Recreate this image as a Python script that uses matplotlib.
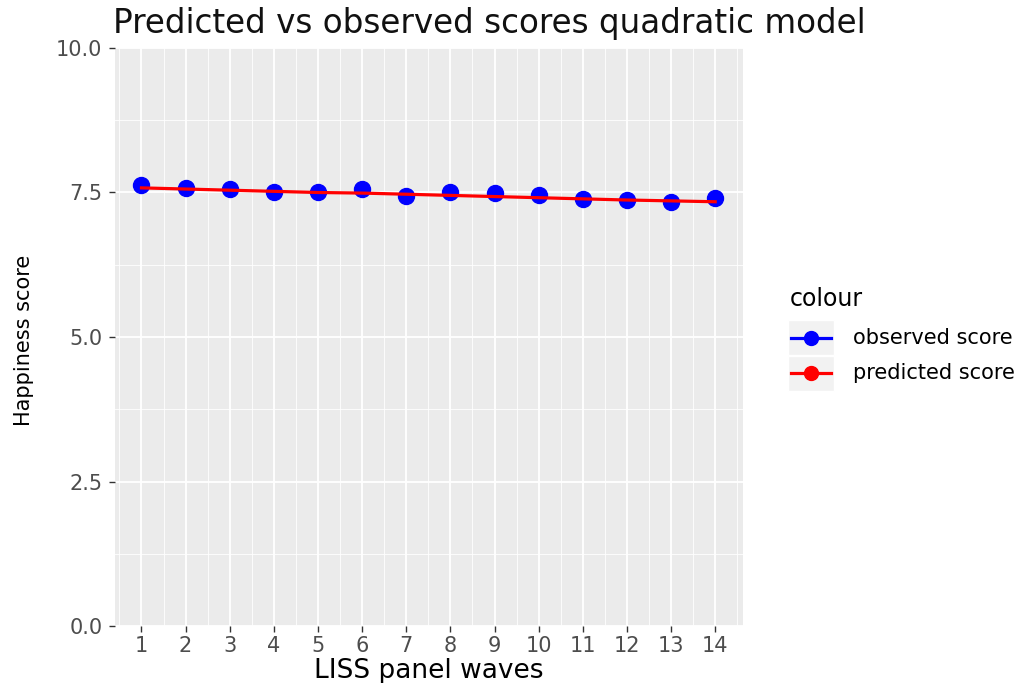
import matplotlib
matplotlib.use("Agg")
import matplotlib.pyplot as plt
from matplotlib.lines import Line2D
from matplotlib.patches import Rectangle
import numpy as np

# ---- data ----
waves = [1, 2, 3, 4, 5, 6, 7, 8, 9, 10, 11, 12, 13, 14]
observed = [7.63, 7.57, 7.555, 7.51, 7.51, 7.56, 7.445, 7.50, 7.485, 7.457, 7.39, 7.37, 7.34, 7.40]
predicted = [7.58, 7.56, 7.54, 7.52, 7.50, 7.49, 7.47, 7.45, 7.43, 7.41, 7.39, 7.37, 7.355, 7.34]
y_ticks = [0.0, 2.5, 5.0, 7.5, 10.0]
y_tick_labels = ["0.0", "2.5", "5.0", "7.5", "10.0"]
legend_labels = ["observed score", "predicted score"]
legend_colors = ["blue", "red"]

W, H = 1035, 683
fig = plt.figure(figsize=(W / 100, H / 100), dpi=100)
fig.patch.set_facecolor("white")

def fx(px):
    return px / W

def fy(py):
    return 1 - py / H

left, right, top, bottom = 115, 743, 48, 626
ax = fig.add_axes([fx(left), fy(bottom), fx(right - left), (bottom - top) / H])
ax.set_facecolor("#EBEBEB")
for s in ax.spines.values():
    s.set_visible(False)

ax.set_xlim(0.4, 14.63)
ax.set_ylim(0, 10)
ax.set_xticks(waves)
ax.set_xticklabels([str(w) for w in waves])
ax.set_xticks([w - 0.5 for w in waves] + [14.5], minor=True)
ax.set_yticks(y_ticks)
ax.set_yticklabels(y_tick_labels)
ax.set_yticks([1.25, 3.75, 6.25, 8.75], minor=True)

ax.grid(True, which="major", color="white", linewidth=1.3, zorder=0)
ax.grid(True, which="minor", color="white", linewidth=0.6, zorder=0)
ax.set_axisbelow(True)

ax.tick_params(axis="both", which="major", length=4.5, width=1, color="#333333",
               labelcolor="#4D4D4D", labelsize=15)
ax.tick_params(axis="x", which="major", pad=3)
ax.tick_params(axis="y", which="major", pad=4.5)
ax.tick_params(axis="both", which="minor", length=0)

# marks
ax.plot(waves, observed, linestyle="none", marker="o", markersize=11.5,
        color="blue", zorder=4)
ax.plot(waves, predicted, color="red", linewidth=2.3, zorder=5)

# titles
fig.text(fx(113), fy(33), "Predicted vs observed scores quadratic model",
         fontsize=23.5, color="#111111", ha="left", va="baseline")
fig.text(fx((left + right) / 2), fy(678), "LISS panel waves",
         fontsize=19, color="black", ha="center", va="baseline")
fig.text(fx(24), fy((top + bottom) / 2 + 3), "Happiness score",
         fontsize=15, color="black", ha="center", va="center", rotation=90)

# legend (manual, ggplot style)
fig.text(fx(790), fy(306), "colour", fontsize=17, color="black",
         ha="left", va="baseline")
key_w, key_h = 46, 35
key_x0 = 788
key_centers = [338, 373]
for lab, col, cy in zip(legend_labels, legend_colors, key_centers):
    fig.patches.append(Rectangle((fx(key_x0), fy(cy + key_h / 2)), key_w / W, key_h / H,
                                 transform=fig.transFigure, facecolor="#F2F2F2",
                                 edgecolor="white", linewidth=1, zorder=1))
    fig.lines.append(Line2D([fx(key_x0 + 3), fx(key_x0 + key_w - 3)], [fy(cy), fy(cy)],
                            transform=fig.transFigure, color=col, linewidth=2.3, zorder=2))
    fig.lines.append(Line2D([fx(key_x0 + key_w / 2)], [fy(cy)], transform=fig.transFigure,
                            marker="o", markersize=10, color=col, zorder=3))
    fig.text(fx(853), fy(cy), lab, fontsize=15, color="black", ha="left", va="center")

fig.savefig("out.png", dpi=100)
